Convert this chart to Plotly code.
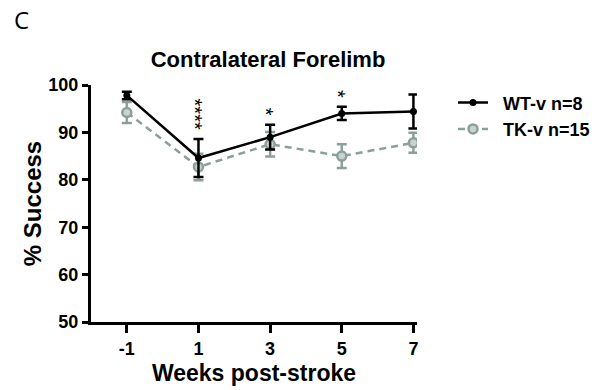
import plotly.graph_objects as go

weeks = [-1, 1, 3, 5, 7]
wt_mean = [97.8, 84.6, 89.0, 94.0, 94.4]
wt_sem = [0.8, 4.0, 2.6, 1.4, 3.6]
tk_mean = [94.2, 82.7, 87.5, 85.0, 87.8]
tk_sem = [2.2, 2.8, 2.6, 2.5, 2.1]
sig = ["", "****", "*", "*", ""]
wt_name = "WT-v n=8"
tk_name = "TK-v n=15"
x_ticks = [-1, 1, 3, 5, 7]
y_ticks = [50, 60, 70, 80, 90, 100]

BLACK = "#000000"
GRAY = "#8c9f9b"
FAM = "Arial, Liberation Sans"

fig = go.Figure()
fig.add_trace(go.Scatter(
    x=weeks, y=tk_mean, name=f"&nbsp;&nbsp;<b>{tk_name}</b>", mode="lines+markers",
    line=dict(color=GRAY, width=2.5, dash="7px,5px"),
    marker=dict(symbol="circle", size=9, color="#c9d3d1", line=dict(color=GRAY, width=2.5)),
    error_y=dict(type="data", array=tk_sem, color=GRAY, thickness=2.5, width=5),
))
fig.add_trace(go.Scatter(
    x=weeks, y=wt_mean, name=f"&nbsp;&nbsp;<b>{wt_name}</b>", mode="lines+markers",
    line=dict(color=BLACK, width=2.5),
    marker=dict(symbol="circle", size=7, color=BLACK),
    error_y=dict(type="data", array=wt_sem, color=BLACK, thickness=2.5, width=5),
))

annotations = []
for xi, m, s, lab in zip(weeks, wt_mean, wt_sem, sig):
    if not lab:
        continue
    n = len(lab)
    annotations.append(dict(
        x=xi, y=m + s, xref="x", yref="y", text=lab, showarrow=False,
        textangle=90, xanchor="center", yanchor="middle",
        yshift=13 + 4 * (n - 1), xshift=-4,
        font=dict(family=FAM, size=20, color=BLACK),
    ))

plot_h = 390 - 84.7 - 68.3
annotations.append(dict(
    xref="paper", yref="paper", text="C", showarrow=False,
    x=(21 - 91) / 326, y=(390 - 68.3 - 19) / plot_h,
    xanchor="center", yanchor="middle",
    font=dict(family="Open Sans", size=24, color=BLACK),
))

font_b = dict(family=FAM, color=BLACK)

fig.update_layout(
    width=597, height=390,
    margin=dict(l=91, r=180, t=84.7, b=68.3, autoexpand=False),
    paper_bgcolor="white", plot_bgcolor="white",
    title=dict(text="<b>Contralateral Forelimb</b>", x=(268 - 91) / 326, xref="paper",
               xanchor="center", y=(390 - 59) / 390, yanchor="middle",
               font=dict(size=22, **font_b)),
    showlegend=True,
    legend=dict(x=(453 - 91) / 326, y=(390 - 68.3 - 84) / plot_h, xanchor="left", yanchor="top",
                traceorder="reversed", font=dict(size=18, **font_b),
                bgcolor="rgba(0,0,0,0)", itemwidth=30, tracegroupgap=0),
    xaxis=dict(range=[-2, 7.1], tickvals=x_ticks, ticktext=[f"<b>{t}</b>" for t in x_ticks],
               showgrid=False, zeroline=False, showline=True, linecolor=BLACK, linewidth=3,
               ticks="outside", ticklen=8, tickwidth=3, tickcolor=BLACK,
               tickfont=dict(size=18, **font_b), automargin=False,
               title=dict(text="<b>Weeks post-stroke</b>", font=dict(size=23, **font_b), standoff=8)),
    yaxis=dict(range=[50, 100], tickvals=y_ticks, ticktext=[f"<b>{t}</b>" for t in y_ticks],
               showgrid=False, zeroline=False, showline=True, linecolor=BLACK, linewidth=3,
               ticks="outside", ticklen=6, tickwidth=3, tickcolor=BLACK,
               tickfont=dict(size=18, **font_b), automargin=False,
               title=dict(text="<b>% Success</b>", font=dict(size=24, **font_b), standoff=0)),
    annotations=annotations,
)
fig.write_html("out.html")
